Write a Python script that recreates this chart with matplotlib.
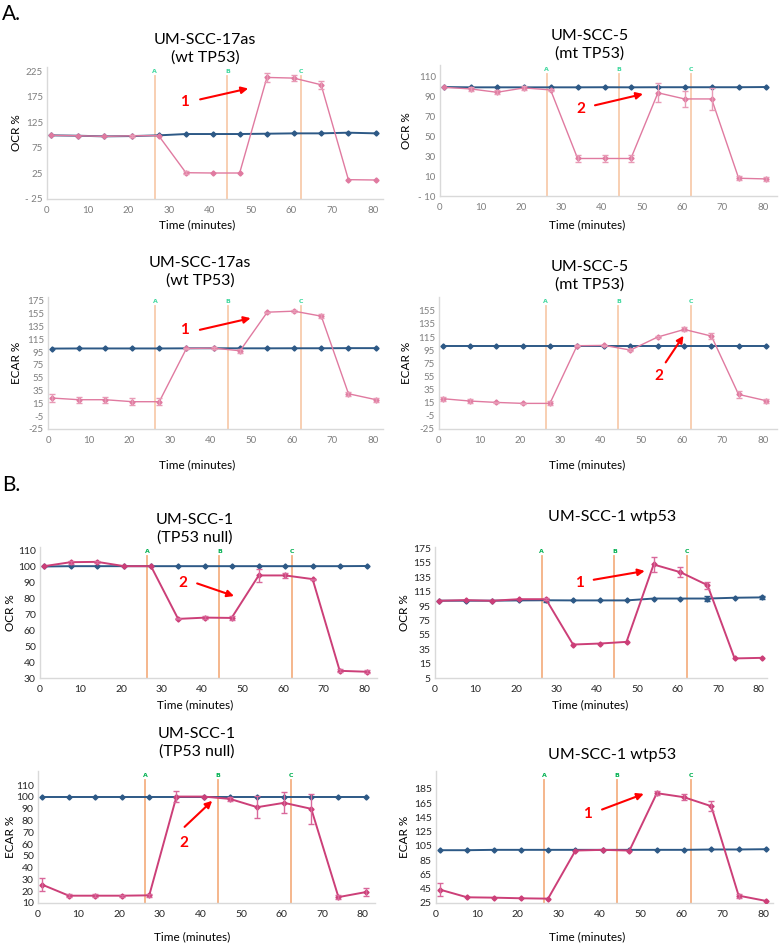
import matplotlib
matplotlib.use("Agg")
import matplotlib.pyplot as plt
import matplotlib.transforms as mtransforms

plt.rcParams['font.family'] = ['Lato', 'DejaVu Sans']

W, H = 779, 943

# ---------------- data ----------------
time_min = [1, 7.6, 14.1, 20.8, 27.4, 34.1, 40.8, 47.3, 54.0, 60.6, 67.3, 74.0, 80.8]
injections = ['A', 'B', 'C']
injection_times = [26.4, 44.3, 62.3]
xticks = [0, 10, 20, 30, 40, 50, 60, 70, 80]

# Panel A: UM-SCC-17as OCR
ocr17_ctrl = [99.4, 98.7, 97.4, 98.0, 99.4, 102.0, 102.0, 102.0, 102.6, 103.3, 103.3, 104.6, 103.3]
ocr17_trt = [99.4, 98.7, 97.4, 98.5, 99.0, 26.4, 25.8, 25.8, 212.6, 211.3, 198.3, 12.8, 12.1]
ocr17_err = [0, 0, 0, 2, 0, 3, 0, 0, 9, 6, 8, 0, 0]
ocr17_ticks = [-25, 25, 75, 125, 175, 225]
ocr17_labels = ['- 25', '25', '75', '125', '175', '225']

# Panel A: UM-SCC-5 OCR
ocr5_ctrl = [99.8, 99.5, 99.5, 99.5, 99.5, 99.5, 99.6, 99.5, 99.6, 99.6, 99.6, 99.6, 99.8]
ocr5_trt = [99.5, 97.9, 94.5, 98.9, 96.9, 27.8, 27.8, 27.8, 94.0, 87.8, 87.8, 7.9, 7.2]
ocr5_err = [0, 2, 2, 2, 1, 4, 4, 4, 9.4, 8, 11, 2, 2]
ocr5_ticks = [-10, 10, 30, 50, 70, 90, 110]
ocr5_labels = ['- 10', '10', '30', '50', '70', '90', '110']

# Panel A: UM-SCC-17as ECAR
ecar17_ctrl = [100.5, 100.7, 100.7, 100.7, 100.7, 100.9, 101.0, 100.9, 100.9, 101.0, 101.0, 101.2, 101.2]
ecar17_trt = [23.3, 20.7, 20.7, 17.6, 17.6, 100.7, 101.2, 97.1, 157.3, 158.9, 151.1, 30.0, 20.7]
ecar17_err = [6, 5, 5, 5, 5, 1, 1, 3, 1, 2, 3, 3, 3]
ecar17_ticks = [-25, -5, 15, 35, 55, 75, 95, 115, 135, 155, 175]
ecar17_labels = ['-25', '-5', '15', '35', '55', '75', '95', '115', '135', '155', '175']

# Panel A: UM-SCC-5 ECAR
ecar5_ctrl = [101.8, 101.8, 101.8, 101.8, 101.8, 101.8, 101.8, 101.8, 101.8, 101.8, 101.8, 101.8, 101.8]
ecar5_trt = [21.1, 17.6, 15.5, 14.0, 14.0, 101.8, 102.3, 95.2, 115.0, 126.6, 116.5, 27.7, 18.1]
ecar5_err = [3, 3, 1, 1, 3, 1, 1, 1, 2, 3, 5, 5, 3]
ecar5_ticks = [-25, -5, 15, 35, 55, 75, 95, 115, 135, 155]
ecar5_labels = ['-25', '-5', '15', '35', '55', '75', '95', '115', '135', '155']

# Panel B: UM-SCC-1 (TP53 null) OCR
ocr1n_ctrl = [99.8, 100, 100, 100, 100, 100, 100, 100, 100, 100, 100, 100, 100.1]
ocr1n_trt = [100, 102.5, 102.7, 100, 100, 67.0, 67.8, 67.6, 94.2, 94.2, 91.9, 34.5, 33.9]
ocr1n_err = [0, 1, 0.5, 0, 0, 0.3, 1, 1, 3.8, 1.5, 0.3, 1, 1]
ocr1n_ticks = [30, 40, 50, 60, 70, 80, 90, 100, 110]
ocr1n_labels = ['30', '40', '50', '60', '70', '80', '90', '100', '110']

# Panel B: UM-SCC-1 wtp53 OCR
ocr1w_ctrl = [102.4, 102.4, 102.4, 102.8, 103.0, 102.8, 102.8, 102.8, 105.4, 105.4, 105.4, 106.5, 107.0]
ocr1w_ctrl_err = [0, 0, 0, 0, 2, 0, 0, 0, 0, 0, 3, 0, 2]
ocr1w_trt = [102.3, 103.2, 102.3, 104.5, 104.5, 41.5, 42.9, 45.2, 152.7, 142.0, 124.0, 22.2, 23.0]
ocr1w_err = [0, 0, 0, 0, 1.5, 0, 0, 0, 11, 7, 5, 0, 0]
ocr1w_ticks = [-5, 15, 35, 55, 75, 95, 115, 135, 155, 175]
ocr1w_labels = ['5', '15', '35', '55', '75', '95', '115', '135', '155', '175']

# Panel B: UM-SCC-1 (TP53 null) ECAR
ecar1n_ctrl = [100.2, 100.2, 100.2, 100.2, 100.2, 100.2, 100.2, 100.2, 100.2, 100.2, 100.2, 100.2, 100.2]
ecar1n_trt = [25.6, 16.2, 16.2, 16.2, 16.5, 100.3, 100.3, 98.3, 91.3, 95.0, 89.9, 15.0, 19.3]
ecar1n_err = [5.2, 1.5, 1.5, 1, 1.5, 4.8, 0, 1.5, 9.6, 8.8, 12.7, 1.5, 3.5]
ecar1n_ticks = [10, 20, 30, 40, 50, 60, 70, 80, 90, 100, 110]
ecar1n_labels = ['10', '20', '30', '40', '50', '60', '70', '80', '90', '100', '110']

# Panel B: UM-SCC-1 wtp53 ECAR
ecar1w_ctrl = [99.0, 99.0, 99.5, 99.5, 99.5, 99.5, 99.5, 99.5, 99.5, 99.5, 100, 100, 100.4]
ecar1w_trt = [43.7, 33.0, 32.5, 31.6, 31.1, 98.5, 99.5, 98.5, 178.9, 173.3, 160.7, 35.3, 27.8]
ecar1w_err = [8.7, 0, 0, 0, 0, 0, 0, 0, 3, 4, 6.8, 3, 0]
ecar1w_ticks = [25, 45, 65, 85, 105, 125, 145, 165, 185]
ecar1w_labels = ['25', '45', '65', '85', '105', '125', '145', '165', '185']

# ---------------- styling ----------------
BLUE = '#2d5986'
PINK_A = '#e07aa0'
PINK_B = '#cc3f78'
PINK_ERR_A = '#e89ab6'
PINK_ERR_B = '#d9679a'
VLINE_A = '#f8cbad'
VLINE_B = '#f4b183'
SPINE = '#d9d9d9'

fig = plt.figure(figsize=(W / 100, H / 100), dpi=100)


def add_ax(left, top, right, bottom):
    return fig.add_axes([left / W, 1 - bottom / H, (right - left) / W, (bottom - top) / H])


def panel(box, xmax, ylim, ticks, labels, ctrl, trt, err, ylabel, title, title_xy,
          xlabel_xy, ylabel_x, note, note_xy, arrow_from, arrow_to, section,
          ctrl_err=None):
    ax = add_ax(*box)
    is_b = section == 'B'
    pink = PINK_B if is_b else PINK_A
    pink_err = PINK_ERR_B if is_b else PINK_ERR_A
    vcol = VLINE_B if is_b else VLINE_A
    tickcol = '#262626' if is_b else '#7f7f7f'
    lw_p = 1.4 if is_b else 1.0

    ax.set_xlim(0, xmax)
    ax.set_ylim(*ylim)
    for s in ['top', 'right']:
        ax.spines[s].set_visible(False)
    for s in ['left', 'bottom']:
        ax.spines[s].set_color(SPINE)
        ax.spines[s].set_linewidth(1.0)
    ax.set_xticks(xticks)
    ax.set_xticklabels([str(v) for v in xticks])
    ax.set_yticks(ticks)
    ax.set_yticklabels(labels)
    ax.tick_params(length=0, labelsize=7 if not is_b else 7.5, colors=tickcol, pad=3)
    ax.tick_params(axis='x', pad=5)

    trans = mtransforms.blended_transform_factory(ax.transData, ax.transAxes)
    for name, tx in zip(injections, injection_times):
        ax.axvline(tx, ymin=0, ymax=0.93, color=vcol, lw=1.3, zorder=1)
        ax.text(tx, 0.965, name, transform=trans, ha='center', va='center',
                fontsize=4.5, color='#00b050' if is_b else '#3fd89e',
                fontweight='bold', family='DejaVu Sans')

    ax.plot(time_min, ctrl, color=BLUE, lw=1.4, marker='D', ms=2.6, zorder=3)
    if ctrl_err is not None:
        idx = [i for i, e in enumerate(ctrl_err) if e > 0]
        ax.errorbar([time_min[i] for i in idx], [ctrl[i] for i in idx],
                    yerr=[ctrl_err[i] for i in idx], fmt='none', ecolor=BLUE,
                    elinewidth=1, capsize=2.5, capthick=1, zorder=3)
    ax.plot(time_min, trt, color=pink, lw=lw_p, marker='D', ms=2.6, zorder=4)
    idx = [i for i, e in enumerate(err) if e > 0]
    ax.errorbar([time_min[i] for i in idx], [trt[i] for i in idx],
                yerr=[err[i] for i in idx], fmt='none', ecolor=pink_err,
                elinewidth=1, capsize=2.5, capthick=1, zorder=4)

    ax.annotate('', xy=arrow_to, xytext=arrow_from,
                arrowprops=dict(arrowstyle='-|>', color='#ff0000', lw=1.5,
                                mutation_scale=10, shrinkA=0, shrinkB=0), zorder=6)
    ax.text(note_xy[0], note_xy[1], note, color='#ff0000', fontsize=11,
            fontweight='bold', ha='center', va='center', zorder=6)

    fig.text(title_xy[0] / W, 1 - title_xy[1] / H, title, ha='center', va='center',
             fontsize=11.5, linespacing=1.25, color='black')
    fig.text(xlabel_xy[0] / W, 1 - xlabel_xy[1] / H, 'Time (minutes)', ha='center',
             va='center', fontsize=8.5, color='black')
    ycen = (box[1] + box[3]) / 2
    fig.text(ylabel_x / W, 1 - ycen / H, ylabel, rotation=90, ha='center',
             va='center', fontsize=8.5, color='black')
    return ax


panel((47, 67, 383, 199), 82.5, (-25, 233), ocr17_ticks, ocr17_labels,
      ocr17_ctrl, ocr17_trt, ocr17_err, 'OCR %', 'UM-SCC-17as\n(wt TP53)', (205, 49),
      (197, 225), 17, '1', (33.7, 165), (37.6, 169.7), (49.4, 191), 'A')
panel((440, 65, 777, 196), 83.5, (-10, 122), ocr5_ticks, ocr5_labels,
      ocr5_ctrl, ocr5_trt, ocr5_err, 'OCR %', 'UM-SCC-5\n(mt TP53)', (590, 45),
      (587, 225), 407, '2', (34.9, 77.6), (38.4, 81.4), (50.3, 92.8), 'A')
panel((48, 297, 383, 429), 82.5, (-25, 181), ecar17_ticks, ecar17_labels,
      ecar17_ctrl, ecar17_trt, ecar17_err, 'ECAR %', 'UM-SCC-17as\n(wt TP53)', (200, 272),
      (197, 465), 17, '1', (33.7, 129.8), (37.4, 129.8), (49.9, 148), 'A')
panel((439, 297, 777, 429), 83.5, (-25, 176), ecar5_ticks, ecar5_labels,
      ecar5_ctrl, ecar5_trt, ecar5_err, 'ECAR %', 'UM-SCC-5\n(mt TP53)', (590, 276),
      (587, 465), 407, '2', (54.2, 55.1), (56.0, 76.4), (60.4, 117), 'A')
panel((40, 547, 377, 678), 83.2, (30, 112), ocr1n_ticks, ocr1n_labels,
      ocr1n_ctrl, ocr1n_trt, ocr1n_err, 'OCR %', 'UM-SCC-1\n(TP53 null)', (195, 529),
      (195, 705), 10, '2', (35.2, 89.6), (38.8, 89.2), (47.9, 81.3), 'B')
panel((435, 547, 767, 678), 82.0, (-5, 177), ocr1w_ticks, ocr1w_labels,
      ocr1w_ctrl, ocr1w_trt, ocr1w_err, 'OCR %', 'UM-SCC-1 wtp53', (612, 517),
      (590, 705), 405, '1', (35.6, 127.3), (39.2, 131.5), (51.8, 143.7), 'B',
      ctrl_err=ocr1w_ctrl_err)
panel((38, 771, 375, 903), 83.0, (10, 122), ecar1n_ticks, ecar1n_labels,
      ecar1n_ctrl, ecar1n_trt, ecar1n_err, 'ECAR %', 'UM-SCC-1\n(TP53 null)', (197, 743),
      (192, 937), 10, '2', (35.9, 61.3), (36.1, 74.6), (42.9, 96.7), 'B')
panel((436, 771, 773, 903), 82.4, (25, 210), ecar1w_ticks, ecar1w_labels,
      ecar1w_ctrl, ecar1w_trt, ecar1w_err, 'ECAR %', 'UM-SCC-1 wtp53', (612, 755),
      (587, 937), 405, '1', (37.1, 149.9), (40.6, 156), (50.8, 178), 'B')

fig.text(2 / W, 1 - 14 / H, 'A.', fontsize=15, ha='left', va='center')
fig.text(2 / W, 1 - 485 / H, 'B.', fontsize=15, ha='left', va='center')

fig.savefig('out.png', dpi=100)
